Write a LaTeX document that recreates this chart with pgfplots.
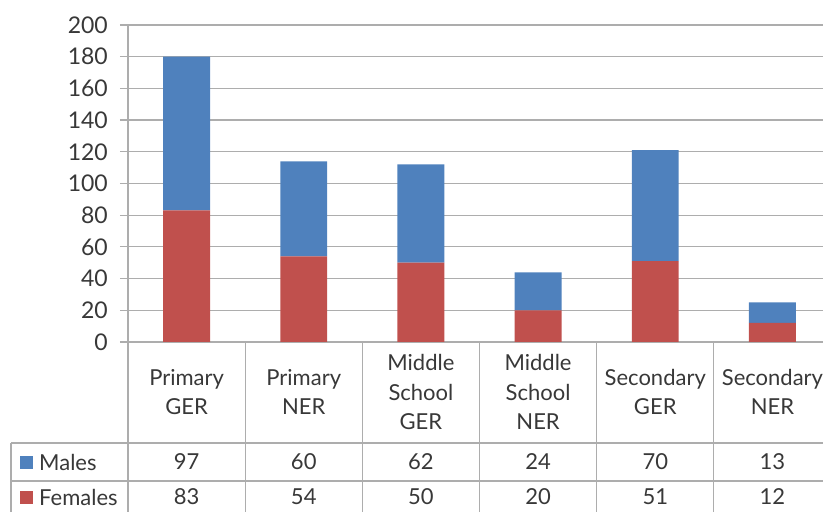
\documentclass[border=0pt]{standalone}
\usepackage{pgfplots}
\pgfplotsset{compat=1.18}
\usepackage{fontspec}
\setmainfont{Lato}
\definecolor{maleblue}{HTML}{4F81BD}
\definecolor{femalered}{HTML}{C0504D}
\definecolor{gridgray}{HTML}{ADADAD}
\definecolor{txt}{HTML}{383838}
\begin{document}
\begin{tikzpicture}[font=\fontsize{22}{29.5}\selectfont, text=txt]
\useasboundingbox (0,0) rectangle (823pt,512pt);
\begin{axis}[
  at={(128pt,170pt)}, anchor=south west, scale only axis,
  width=703pt, height=317pt,
  ybar stacked, bar width=0.4,
  xmin=-0.5, xmax=5.5, ymin=0, ymax=200,
  ytick={0,20,...,200}, xtick=\empty,
  axis x line*=bottom, axis y line*=left,
  axis line style={-, gridgray, line width=1.2pt},
  ymajorgrids, grid style={gridgray, line width=1.2pt},
  tick style={gridgray, line width=1.2pt},
  major tick length=8pt, tick align=outside,
  yticklabel style={inner sep=0pt, xshift=-12pt, text=txt, font=\fontsize{23}{28}\selectfont},
  /pgf/number format/assume math mode=true,
  clip=false,
]
  % Females at the bottom of each stack
  \addplot[fill=femalered, draw=none] coordinates {(0,83) (1,54) (2,50) (3,20) (4,51) (5,12)};
  % Males on top
  \addplot[fill=maleblue, draw=none] coordinates {(0,97) (1,60) (2,62) (3,24) (4,70) (5,13)};
\end{axis}
% data table below the plot
\begin{scope}[x=1pt, y=-1pt, yshift=512pt]
  \foreach \k in {0,...,5} {
    \draw[gridgray, line width=1.2pt] ({128+117.17*\k},343) -- ({128+117.17*\k},512);
  }
  \draw[gridgray, line width=1.2pt] (11,443) -- (11,512);
  \draw[gridgray, line width=1.2pt] (11,443) -- (831,443);
  \draw[gridgray, line width=1.2pt] (11,481) -- (831,481);
  \foreach \lab [count=\i from 0] in {Primary\\GER, Primary\\NER, Middle\\School\\GER, Middle\\School\\NER, Secondary\\GER, Secondary\\NER} {
    \node[align=center, inner sep=0pt] at ({128+117.17*(\i+0.5)},392) {\lab};
  }
  \foreach \v [count=\i from 0] in {97,60,62,24,70,13} {
    \node[inner sep=0pt] at ({128+117.17*(\i+0.5)},462) {\v};
  }
  \foreach \v [count=\i from 0] in {83,54,50,20,51,12} {
    \node[inner sep=0pt] at ({128+117.17*(\i+0.5)},497) {\v};
  }
  \fill[maleblue] (20,456) rectangle (33,469);
  \node[anchor=west, inner sep=0pt] at (39,462) {Males};
  \fill[femalered] (20,491) rectangle (33,504);
  \node[anchor=west, inner sep=0pt] at (39,497) {Females};
\end{scope}
\end{tikzpicture}
\end{document}
